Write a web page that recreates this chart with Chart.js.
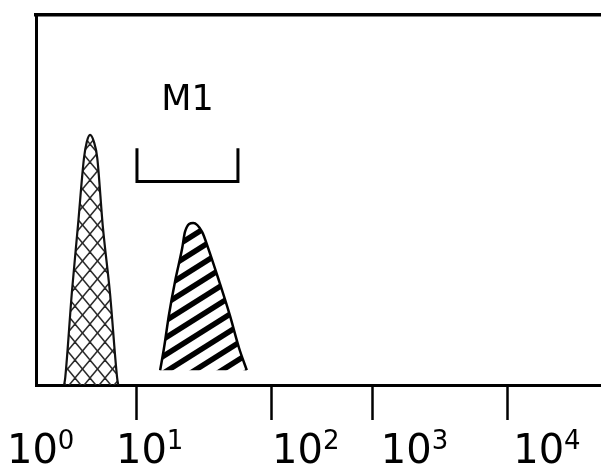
<!DOCTYPE html>
<html>
<head>
<meta charset="utf-8">
<script src="https://cdn.jsdelivr.net/npm/chart.js@4/dist/chart.umd.min.js"></script>
<style>
    html, body { margin: 0; padding: 0; background: #fff; }
    canvas { display: block; }
</style>
</head>
<body>
<canvas id="histogram" width="601" height="468"></canvas>
<script>
'use strict';

// fluorescence channel range (log decades drawn on a 1024 channel axis)
const channelMax = 1024;
const countMax = 100;

// decade tick marks on the channel axis, and where each decade label sits
const decadeTicks = [183, 426, 609, 854];
const decadeExponents = ['0', '1', '2', '3', '4'];
const decadeLabelAt = [8.5, 206, 489, 686, 926];

// isotype control histogram
const controlChannels = [51, 53, 65, 76, 87, 92, 98, 105, 111, 121, 134, 147, 149];
const controlCounts = [0, 2, 25, 43, 61.4, 65.7, 67.6, 65.7, 61.4, 43, 25, 2, 0];

// stained sample histogram (cut off at the baseline count)
const stainedBase = 4;
const stainedChannels = [225, 232, 241, 252, 265, 270, 285, 301, 312, 332, 351, 368, 382];
const stainedCounts = [4, 10, 19, 28, 37, 41.4, 43.8, 41.4, 37, 28, 19, 10, 4];

// M1 gate marker
const gateName = 'M1';
const gateChannels = [183, 183, 366, 366];
const gateCounts = [64, 55, 55, 64];

/**
 * Build a repeating diagonal line pattern.
 */
function linePattern(w, h, width, color, both) {
    const c = document.createElement('canvas');
    c.width = w;
    c.height = h;
    const g = c.getContext('2d');
    g.strokeStyle = color;
    g.lineWidth = width;
    g.lineCap = 'square';
    for (let k = -1; k <= 1; k++) {
        g.beginPath();
        g.moveTo(0, h + k * h);
        g.lineTo(w, k * h);
        g.stroke();
        if (both) {
            g.beginPath();
            g.moveTo(0, k * h);
            g.lineTo(w, h + k * h);
            g.stroke();
        }
    }
    return g.createPattern(c, 'repeat');
}

const toPoints = (xs, ys) => xs.map((x, i) => ({ x: x, y: ys[i] }));

// labels 10^n under the axis plus the gate name
const labelPlugin = {
    id: 'decadeLabels',
    afterDraw(chart) {
        const ctx = chart.ctx;
        const xs = chart.scales.x;
        const ys = chart.scales.y;
        const baseY = chart.chartArea.bottom + 78;
        ctx.save();
        ctx.fillStyle = '#000';
        ctx.textBaseline = 'alphabetic';
        decadeExponents.forEach((exp, i) => {
            ctx.font = '40px "DejaVu Sans"';
            const wBase = ctx.measureText('10').width;
            ctx.font = '26px "DejaVu Sans"';
            const wExp = ctx.measureText(exp).width;
            const left = xs.getPixelForValue(decadeLabelAt[i]) - (wBase + wExp) / 2;
            ctx.font = '40px "DejaVu Sans"';
            ctx.textAlign = 'left';
            ctx.fillText('10', left, baseY);
            ctx.font = '26px "DejaVu Sans"';
            ctx.fillText(exp, left + wBase, baseY - 14);
        });

        const gx = (xs.getPixelForValue(gateChannels[0]) + xs.getPixelForValue(gateChannels[3])) / 2;
        const gy = ys.getPixelForValue(Math.max(...gateCounts));
        ctx.font = '35px "DejaVu Sans"';
        ctx.textAlign = 'center';
        ctx.fillText(gateName, gx, gy - 38);
        ctx.restore();
    }
};

const ctx = document.getElementById('histogram').getContext('2d');

new Chart(ctx, {
    type: 'scatter',
    data: {
        datasets: [
            {
                label: 'Isotype',
                data: toPoints(controlChannels, controlCounts),
                showLine: true,
                borderColor: '#111',
                borderWidth: 2.2,
                backgroundColor: linePattern(15, 18, 1.5, '#2a2a2a', true),
                fill: 'origin',
                pointRadius: 0,
                cubicInterpolationMode: 'monotone',
            },
            {
                label: 'Stained',
                data: toPoints(stainedChannels, stainedCounts),
                showLine: true,
                borderColor: '#000',
                borderWidth: 2.5,
                backgroundColor: linePattern(27, 17, 5.5, '#000', false),
                fill: { value: stainedBase },
                pointRadius: 0,
                cubicInterpolationMode: 'monotone',
            },
            {
                label: gateName,
                data: toPoints(gateChannels, gateCounts),
                showLine: true,
                borderColor: '#000',
                borderWidth: 3,
                fill: false,
                pointRadius: 0,
                tension: 0,
            },
        ],
    },
    options: {
        responsive: false,
        animation: false,
        devicePixelRatio: 1,
        layout: {
            padding: { left: 36, top: 15, right: 0, bottom: 48 },
        },
        plugins: {
            legend: { display: false },
            tooltip: { enabled: false },
        },
        scales: {
            x: {
                type: 'linear',
                position: 'bottom',
                min: 0,
                max: channelMax,
                afterBuildTicks: (scale) => {
                    scale.ticks = decadeTicks.map((v) => ({ value: v }));
                },
                ticks: { display: false },
                grid: {
                    display: true,
                    drawOnChartArea: false,
                    drawTicks: true,
                    tickLength: 35,
                    tickWidth: 2.5,
                    tickColor: '#000',
                },
                border: { display: true, width: 3, color: '#000' },
            },
            xTop: {
                type: 'linear',
                axis: 'x',
                position: 'top',
                min: 0,
                max: channelMax,
                ticks: { display: false },
                grid: { display: false, drawTicks: false },
                border: { display: true, width: 3.5, color: '#000' },
            },
            y: {
                type: 'linear',
                min: 0,
                max: countMax,
                ticks: { display: false },
                grid: { display: false, drawTicks: false },
                border: { display: true, width: 3, color: '#000' },
            },
        },
    },
    plugins: [labelPlugin],
});
</script>
</body>
</html>
